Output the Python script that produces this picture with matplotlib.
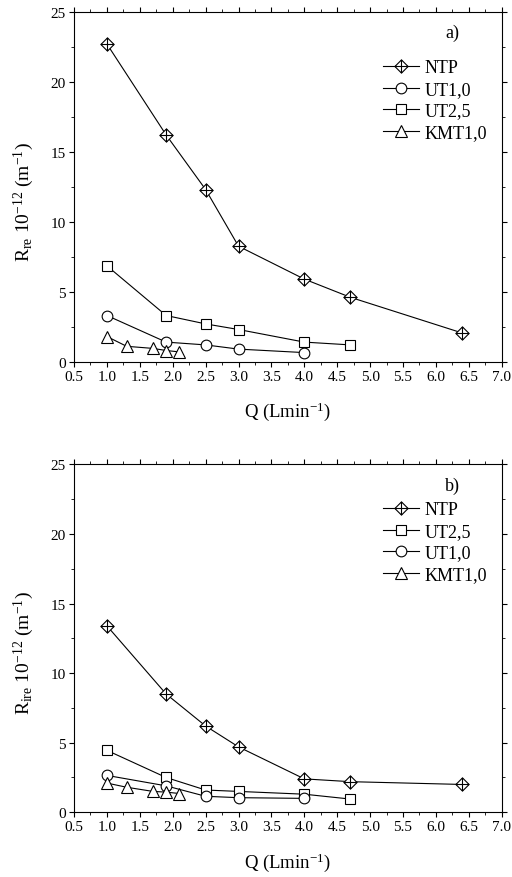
import matplotlib
matplotlib.use("Agg")
import matplotlib.pyplot as plt
from matplotlib.path import Path
from matplotlib.ticker import MultipleLocator

plt.rcParams['font.family'] = ['Liberation Serif', 'DejaVu Serif']
plt.rcParams['mathtext.fontset'] = 'custom'
plt.rcParams['mathtext.rm'] = 'Liberation Serif'
plt.rcParams['mathtext.it'] = 'Liberation Serif:italic'

# --- data a) ---
ntp_x_a = [1.0, 1.9, 2.5, 3.0, 4.0, 4.7, 6.4]
ntp_y_a = [22.7, 16.2, 12.3, 8.25, 5.9, 4.6, 2.05]
ut25_x_a = [1.0, 1.9, 2.5, 3.0, 4.0, 4.7]
ut25_y_a = [6.85, 3.3, 2.7, 2.3, 1.4, 1.2]
ut10_x_a = [1.0, 1.9, 2.5, 3.0, 4.0]
ut10_y_a = [3.3, 1.4, 1.2, 0.9, 0.65]
kmt_x_a = [1.0, 1.3, 1.7, 1.9, 2.1]
kmt_y_a = [1.8, 1.1, 0.95, 0.8, 0.7]

# --- data b) ---
ntp_x_b = [1.0, 1.9, 2.5, 3.0, 4.0, 4.7, 6.4]
ntp_y_b = [13.4, 8.5, 6.2, 4.7, 2.4, 2.2, 2.0]
ut25_x_b = [1.0, 1.9, 2.5, 3.0, 4.0, 4.7]
ut25_y_b = [4.45, 2.5, 1.6, 1.5, 1.3, 0.95]
ut10_x_b = [1.0, 1.9, 2.5, 3.0, 4.0]
ut10_y_b = [2.65, 1.9, 1.15, 1.05, 1.0]
kmt_x_b = [1.0, 1.3, 1.7, 1.9, 2.1]
kmt_y_b = [2.1, 1.8, 1.5, 1.45, 1.35]

# diamond with a cross inside
diam_cross = Path(
    [(0, 1), (1, 0), (0, -1), (-1, 0), (0, 1), (0, 1), (0, -1), (-1, 0), (1, 0)],
    [Path.MOVETO, Path.LINETO, Path.LINETO, Path.LINETO, Path.CLOSEPOLY,
     Path.MOVETO, Path.LINETO, Path.MOVETO, Path.LINETO])

def series(ax, x, y, marker, label, ms):
    ax.plot(x, y, '-', color='k', lw=0.8, marker=marker, ms=ms,
            mfc='white', mec='k', mew=0.8, label=label)

def style(ax, ylabel, tag, leg_y):
    ax.set_xlim(0.5, 7.0)
    ax.set_ylim(0, 25)
    ax.xaxis.set_major_locator(MultipleLocator(0.5))
    ax.xaxis.set_minor_locator(MultipleLocator(0.25))
    ax.yaxis.set_major_locator(MultipleLocator(5))
    ax.yaxis.set_minor_locator(MultipleLocator(2.5))
    ax.xaxis.set_major_formatter(plt.FormatStrFormatter('%.1f'))
    ax.tick_params(which='both', direction='out', right=True, labelsize=11,
                   pad=2)
    ax.tick_params(which='major', length=3.8)
    ax.tick_params(which='minor', length=2.2)
    ax.tick_params(which='both', top=True, labeltop=False)
    ax.set_xlabel(r'Q (Lmin$^{-1}$)', fontsize=13.5, labelpad=12)
    ax.set_ylabel(ylabel, fontsize=14)
    ax.yaxis.set_label_coords(-0.088, 0.46)
    ax.text(0.885, 0.94, tag, transform=ax.transAxes, fontsize=13,
            ha='center', va='center')
    ax.legend(loc='upper right', bbox_to_anchor=(0.995, leg_y), frameon=False,
              fontsize=13, handlelength=2.0, handletextpad=0.3,
              labelspacing=0.25, borderpad=0.2)

fig = plt.figure(figsize=(5.12, 8.78), dpi=100)
ax1 = fig.add_axes([0.1445, 0.5869, 0.8355, 0.3986])
ax2 = fig.add_axes([0.1445, 0.0737, 0.8355, 0.3963])

series(ax1, ntp_x_a, ntp_y_a, diam_cross, 'NTP', 9.5)
series(ax1, ut10_x_a, ut10_y_a, 'o', 'UT1,0', 7.7)
series(ax1, ut25_x_a, ut25_y_a, 's', 'UT2,5', 6.7)
series(ax1, kmt_x_a, kmt_y_a, '^', 'KMT1,0', 9)
style(ax1, r'R$_{\mathrm{re}}$ 10$^{-12}$ (m$^{-1}$)', 'a)', 0.90)

series(ax2, ntp_x_b, ntp_y_b, diam_cross, 'NTP', 9.5)
series(ax2, ut25_x_b, ut25_y_b, 's', 'UT2,5', 6.7)
series(ax2, ut10_x_b, ut10_y_b, 'o', 'UT1,0', 7.7)
series(ax2, kmt_x_b, kmt_y_b, '^', 'KMT1,0', 9)
style(ax2, r'R$_{\mathrm{ire}}$ 10$^{-12}$ (m$^{-1}$)', 'b)', 0.93)

fig.savefig('out.png', dpi=100)
